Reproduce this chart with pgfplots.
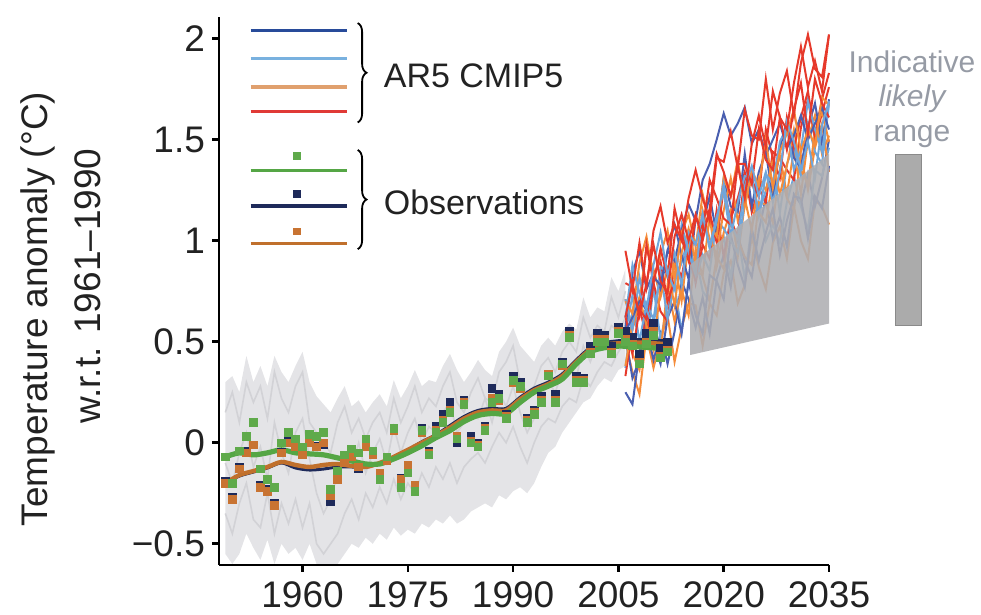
\documentclass[border=0pt]{standalone}
\usepackage{fontspec}
\setmainfont{Liberation Sans}
\usepackage{pgfplots}
\pgfplotsset{compat=1.18}
\usepackage{pgfplotstable}
\usepgfplotslibrary{fillbetween}
\usetikzlibrary{decorations.pathreplacing}

\definecolor{tickc}{HTML}{222222}
\definecolor{histgray}{HTML}{E4E4E7}
\definecolor{histline}{HTML}{D2D2D6}
\definecolor{projgray}{HTML}{AEAEB2}
\definecolor{barfill}{HTML}{ABABAB}
\definecolor{bardraw}{HTML}{8A8A8A}
\definecolor{indc}{HTML}{969BA5}
\definecolor{cred}{HTML}{E6392B}
\definecolor{corange}{HTML}{F58C3A}
\definecolor{clblue}{HTML}{6FA6DB}
\definecolor{cdblue}{HTML}{4A5FB0}
\definecolor{legdblue}{HTML}{284B9A}
\definecolor{leglblue}{HTML}{79B1DF}
\definecolor{legtan}{HTML}{E0A06E}
\definecolor{legred}{HTML}{E03A36}
\definecolor{obsg}{HTML}{5FAA4B}
\definecolor{obsn}{HTML}{1E2A5A}
\definecolor{obso}{HTML}{C87332}
\definecolor{lineg}{HTML}{55A645}
\definecolor{lineo}{HTML}{C0702C}

% CMIP5 historical envelope
\pgfplotstableread{
yr up lo
1949 0.30 -0.55
1950 0.33 -0.60
1951 0.25 -0.55
1952 0.43 -0.45
1953 0.30 -0.52
1954 0.38 -0.58
1955 0.28 -0.48
1956 0.43 -0.60
1957 0.35 -0.50
1958 0.30 -0.55
1959 0.38 -0.52
1960 0.45 -0.58
1961 0.30 -0.50
1962 0.23 -0.60
1963 0.19 -0.60
1964 0.15 -0.60
1965 0.22 -0.60
1966 0.28 -0.55
1967 0.18 -0.50
1968 0.21 -0.52
1969 0.15 -0.47
1970 0.20 -0.50
1971 0.24 -0.45
1972 0.18 -0.48
1973 0.31 -0.42
1974 0.22 -0.46
1975 0.28 -0.43
1976 0.36 -0.45
1977 0.28 -0.40
1978 0.31 -0.42
1979 0.30 -0.38
1980 0.38 -0.40
1981 0.44 -0.36
1982 0.36 -0.40
1983 0.30 -0.38
1984 0.35 -0.34
1985 0.41 -0.32
1986 0.36 -0.30
1987 0.33 -0.32
1988 0.45 -0.26
1989 0.50 -0.28
1990 0.57 -0.24
1991 0.48 -0.22
1992 0.44 -0.25
1993 0.40 -0.20
1994 0.48 -0.12
1995 0.52 -0.05
1996 0.48 -0.02
1997 0.55 0.05
1998 0.59 0.10
1999 0.56 0.15
2000 0.72 0.20
2001 0.62 0.22
2002 0.67 0.28
2003 0.65 0.32
2004 0.82 0.30
2005 0.75 0.36
2006 0.86 0.38
}\env

% a few individual historical runs
\pgfplotstableread{
yr h1 h2 h3
1949 0.15 -0.35 -0.10
1950 0.25 -0.45 -0.20
1951 0.10 -0.30 -0.05
1952 0.30 -0.20 0.05
1953 0.20 -0.38 -0.12
1954 0.28 -0.42 -0.02
1955 0.12 -0.25 -0.18
1956 0.35 -0.45 0.10
1957 0.22 -0.30 -0.05
1958 0.15 -0.40 -0.15
1959 0.28 -0.28 0.05
1960 0.35 -0.42 0.12
1961 0.10 -0.30 -0.08
1962 0.05 -0.50 -0.25
1963 0.00 -0.55 -0.35
1964 -0.05 -0.50 -0.28
1965 0.10 -0.45 -0.15
1966 0.18 -0.35 -0.05
1967 0.05 -0.28 -0.12
1968 0.12 -0.38 0.00
1969 0.02 -0.25 -0.15
1970 0.10 -0.32 -0.05
1971 0.15 -0.22 0.02
1972 0.05 -0.30 -0.10
1973 0.22 -0.18 0.08
1974 0.10 -0.28 -0.05
1975 0.18 -0.20 0.05
1976 0.28 -0.25 0.12
1977 0.15 -0.15 0.00
1978 0.22 -0.22 0.08
1979 0.18 -0.12 0.05
1980 0.28 -0.18 0.15
1981 0.35 -0.10 0.20
1982 0.20 -0.20 0.05
1983 0.15 -0.12 0.10
1984 0.25 -0.08 0.15
1985 0.32 -0.05 0.12
1986 0.22 -0.10 0.22
1987 0.20 -0.02 0.10
1988 0.35 0.05 0.25
1989 0.40 0.00 0.18
1990 0.48 0.08 0.28
1991 0.30 -0.02 0.15
1992 0.25 -0.10 0.05
1993 0.28 0.00 0.12
1994 0.38 0.08 0.22
1995 0.42 0.12 0.30
1996 0.35 0.10 0.25
1997 0.45 0.18 0.35
1998 0.50 0.22 0.38
1999 0.45 0.20 0.32
2000 0.62 0.32 0.48
2001 0.52 0.28 0.40
2002 0.58 0.35 0.50
2003 0.55 0.40 0.48
2004 0.72 0.38 0.58
2005 0.62 0.45 0.55
2006 0.75 0.50 0.62
}\hist

% CMIP5 projections (RCP runs)
\pgfplotstableread{
yr r1 r2 r3 r4 r5 o1 o2 o3 o4 o5 l1 l2 l3 l4 b1 b2 b3 b4
2006 0.62 0.63 0.79 0.33 0.95 0.38 0.71 0.55 0.70 0.50 0.71 0.37 0.62 0.54 0.55 0.53 0.57 0.25
2007 0.79 0.44 0.77 0.57 0.76 0.59 0.56 0.44 0.64 0.35 0.56 0.65 0.88 0.73 0.62 0.32 0.84 0.19
2008 0.63 0.66 0.63 0.67 0.99 0.72 0.71 0.36 0.89 0.24 0.82 0.51 0.74 0.50 0.70 0.41 0.95 0.45
2009 0.79 0.61 0.98 0.52 0.77 0.58 0.96 0.60 1.02 0.53 0.66 0.48 0.66 0.69 0.66 0.65 0.76 0.56
2010 0.98 0.83 0.79 0.79 1.05 0.46 0.86 0.57 0.81 0.37 0.57 0.77 0.88 0.61 0.82 0.50 0.84 0.41
2011 0.80 0.90 0.96 0.65 1.17 0.77 0.72 0.44 0.93 0.51 0.87 0.51 1.04 0.85 0.78 0.39 0.75 0.54
2012 0.74 0.70 0.82 0.60 0.99 0.74 0.86 0.78 1.05 0.63 0.84 0.68 0.83 0.61 0.95 0.62 0.95 0.39
2013 1.02 0.80 1.16 0.90 1.08 0.89 0.68 0.60 0.81 0.40 0.76 0.78 0.94 0.80 0.90 0.70 1.08 0.55
2014 1.13 1.05 1.01 0.82 1.00 0.70 0.94 0.76 1.04 0.57 1.08 0.55 0.78 0.89 1.05 0.54 0.93 0.80
2015 1.00 0.91 0.90 1.01 1.21 0.99 1.06 0.63 1.13 0.69 0.94 0.80 1.04 1.02 1.18 0.80 0.81 0.71
2016 1.13 0.81 1.11 0.79 1.35 0.85 0.89 0.96 0.97 0.68 0.83 0.93 0.98 0.81 1.10 0.63 1.11 0.57
2017 1.00 1.05 1.06 0.98 1.21 0.83 1.15 0.82 1.23 0.48 1.13 0.75 1.13 0.93 1.30 0.54 1.08 0.72
2018 1.16 1.14 1.30 0.91 1.10 1.12 1.01 0.70 1.08 0.69 0.97 0.70 0.96 0.85 1.38 0.83 1.22 0.54
2019 1.43 0.99 1.21 1.15 1.41 0.87 0.93 0.92 1.02 0.63 1.12 0.90 1.10 1.10 1.50 0.80 1.03 0.81
2020 1.34 1.26 1.11 0.92 1.39 1.04 1.15 0.86 1.31 0.84 1.24 1.02 1.28 1.06 1.63 0.71 1.31 0.93
2021 1.22 1.10 1.08 1.11 1.54 1.15 1.31 1.11 1.22 0.90 1.02 0.82 1.08 1.00 1.52 1.03 1.17 0.77
2022 1.37 1.02 1.38 1.21 1.36 0.92 1.10 1.01 1.40 0.69 1.19 1.04 1.01 0.94 1.58 0.88 1.14 1.03
2023 1.21 1.32 1.38 1.34 1.65 1.18 1.21 0.92 1.17 0.78 1.32 0.81 1.27 1.20 1.66 0.77 1.43 0.90
2024 1.48 1.30 1.28 1.14 1.52 1.31 1.05 0.88 1.35 1.02 1.31 1.08 1.37 1.33 1.48 1.06 1.17 0.82
2025 1.62 1.22 1.55 1.26 1.50 1.14 1.31 1.19 1.27 0.87 1.12 1.19 1.22 1.13 1.55 0.90 1.34 1.05
2026 1.46 1.55 1.40 1.19 1.80 1.09 1.25 1.18 1.50 0.76 1.33 1.00 1.34 1.25 1.42 1.04 1.44 1.21
2027 1.74 1.41 1.35 1.44 1.55 1.30 1.40 1.09 1.26 0.99 1.28 1.08 1.19 1.38 1.50 1.16 1.21 1.01
2028 1.61 1.31 1.61 1.41 1.73 1.42 1.23 1.35 1.44 1.07 1.49 0.99 1.34 1.14 1.58 0.93 1.46 1.12
2029 1.55 1.61 1.45 1.35 1.84 1.23 1.37 1.21 1.53 0.91 1.56 1.19 1.59 1.38 1.46 1.10 1.59 0.97
2030 1.78 1.46 1.65 1.30 1.62 1.45 1.55 1.15 1.65 1.17 1.35 1.32 1.49 1.47 1.52 1.22 1.41 1.23
2031 1.96 1.61 1.78 1.56 1.88 1.23 1.35 1.42 1.44 1.00 1.45 1.17 1.35 1.32 1.62 1.21 1.36 1.18
2032 1.76 1.74 1.53 1.70 2.02 1.50 1.28 1.25 1.55 0.91 1.69 1.05 1.49 1.58 1.50 1.01 1.56 1.33
2033 1.89 1.52 1.80 1.50 1.85 1.62 1.54 1.46 1.47 1.20 1.55 1.35 1.31 1.44 1.58 1.22 1.68 1.17
2034 1.74 1.70 1.68 1.63 1.81 1.43 1.64 1.58 1.71 1.17 1.44 1.32 1.57 1.38 1.66 1.16 1.48 1.31
2035 2.02 1.83 1.61 1.76 2.02 1.52 1.49 1.34 1.67 1.08 1.68 1.46 1.69 1.68 1.55 1.37 1.70 1.50
}\proj

% Observations: annual values (green, navy, orange datasets)
\pgfplotstableread{
yr g n o
1949 -0.07 -0.19 -0.20
1950 -0.20 -0.27 -0.28
1951 -0.04 -0.12 -0.13
1952 0.03 -0.04 -0.05
1953 0.10 -0.01 -0.01
1954 -0.13 -0.21 -0.22
1955 -0.18 -0.23 -0.24
1956 -0.22 -0.30 -0.31
1957 0.00 -0.045 -0.05
1958 0.05 0.01 0.00
1959 0.02 -0.015 -0.02
1960 -0.02 -0.055 -0.06
1961 0.04 0.005 0.00
1962 0.03 -0.015 -0.02
1963 0.05 -0.01 0.00
1964 -0.23 -0.29 -0.26
1965 -0.14 -0.175 -0.18
1966 -0.06 -0.095 -0.10
1967 -0.03 -0.065 -0.07
1968 -0.05 -0.13 -0.12
1969 0.02 -0.015 -0.02
1970 -0.04 -0.055 -0.06
1971 -0.18 -0.155 -0.15
1972 -0.07 -0.085 -0.09
1973 0.07 0.07 0.06
1974 -0.22 -0.175 -0.18
1975 -0.15 -0.115 -0.11
1976 -0.24 -0.22 -0.21
1977 0.06 0.07 0.05
1978 -0.06 -0.04 -0.05
1979 0.05 0.08 0.06
1980 0.10 0.14 0.11
1981 0.15 0.20 0.16
1982 0.02 0.00 0.03
1983 0.19 0.21 0.20
1984 0.00 0.03 0.01
1985 -0.02 0.00 -0.01
1986 0.06 0.08 0.07
1987 0.20 0.27 0.22
1988 0.22 0.24 0.21
1989 0.12 0.14 0.13
1990 0.31 0.33 0.30
1991 0.28 0.30 0.27
1992 0.10 0.12 0.11
1993 0.14 0.16 0.15
1994 0.20 0.23 0.21
1995 0.33 0.34 0.34
1996 0.20 0.24 0.21
1997 0.39 0.40 0.38
1998 0.52 0.55 0.53
1999 0.30 0.33 0.31
2000 0.30 0.32 0.31
2001 0.44 0.48 0.45
2002 0.50 0.54 0.51
2003 0.50 0.53 0.51
2004 0.44 0.48 0.45
2005 0.54 0.57 0.55
2006 0.50 0.55 0.51
2007 0.48 0.52 0.49
2008 0.39 0.44 0.40
2009 0.49 0.54 0.50
2010 0.53 0.59 0.55
2011 0.42 0.47 0.43
2012 0.45 0.50 0.46
}\obs

% Observations: smoothed
\pgfplotstableread{
yr g o n
1949 -0.07 -0.20 -0.20
1951 -0.05 -0.16 -0.165
1953 -0.06 -0.14 -0.145
1955 -0.05 -0.12 -0.125
1957 -0.035 -0.095 -0.10
1959 -0.05 -0.11 -0.125
1961 -0.055 -0.12 -0.135
1963 -0.06 -0.11 -0.13
1965 -0.075 -0.105 -0.12
1967 -0.09 -0.115 -0.12
1969 -0.105 -0.12 -0.12
1971 -0.105 -0.10 -0.10
1973 -0.08 -0.07 -0.07
1975 -0.05 -0.035 -0.035
1977 -0.015 0.00 0.005
1979 0.025 0.035 0.04
1981 0.06 0.075 0.085
1983 0.105 0.12 0.13
1985 0.135 0.15 0.16
1987 0.145 0.16 0.17
1989 0.145 0.16 0.17
1991 0.20 0.215 0.225
1993 0.25 0.26 0.27
1995 0.28 0.29 0.30
1997 0.315 0.33 0.34
1999 0.39 0.40 0.41
2001 0.45 0.46 0.47
2003 0.47 0.485 0.495
2005 0.478 0.492 0.505
2007 0.476 0.495 0.51
2009 0.472 0.495 0.51
2011 0.467 0.49 0.505
2012 0.465 0.49 0.505
}\obssm

\begin{document}
\begin{tikzpicture}
\begin{axis}[
  at={(109.5pt,25pt)}, anchor=south west,
  width=305pt, height=274pt, scale only axis,
  xmin=1948.1, xmax=2035, ymin=-0.605, ymax=2.107,
  axis lines=left,
  axis line style={-, line width=1.3pt, black},
  clip=false,
  xtick={1960,1975,1990,2005,2020,2035},
  xticklabels={1960,1975,1990,2005,2020,2035},
  ytick={-0.5,0,0.5,1,1.5,2},
  yticklabels={−0.5,0,0.5,1,1.5,2},
  tick align=outside,
  major tick length=3.5pt,
  tick style={line width=1.3pt, black},
  ticklabel style={font=\fontsize{18.5}{20}\selectfont, text=tickc},
  xticklabel style={yshift=-1.5pt},
]
% historical CMIP5 envelope
\addplot[name path=envup, draw=none, forget plot] table[x=yr, y=up] {\env};
\addplot[name path=envlo, draw=none, forget plot] table[x=yr, y=lo] {\env};
\addplot[fill=histgray, draw=none, forget plot] fill between[of=envup and envlo];
\addplot[histline, line width=0.8pt, forget plot] table[x=yr, y=h1] {\hist};
\addplot[histline, line width=0.8pt, forget plot] table[x=yr, y=h2] {\hist};
\addplot[histline, line width=0.8pt, forget plot] table[x=yr, y=h3] {\hist};

% projections
\pgfplotsset{proj/.style={line width=1pt, forget plot}}
\addplot[proj, corange] table[x=yr, y=o5] {\proj};
\addplot[proj, cdblue]  table[x=yr, y=b4] {\proj};
\addplot[proj, clblue]  table[x=yr, y=l2] {\proj};
\addplot[proj, corange] table[x=yr, y=o3] {\proj};
\addplot[proj, cdblue]  table[x=yr, y=b2] {\proj};
\addplot[proj, cred]    table[x=yr, y=r4] {\proj};
\addplot[proj, corange] table[x=yr, y=o1] {\proj};
\addplot[proj, clblue]  table[x=yr, y=l4] {\proj};
\addplot[proj, cdblue]  table[x=yr, y=b3] {\proj};
\addplot[proj, corange] table[x=yr, y=o2] {\proj};
\addplot[proj, cred]    table[x=yr, y=r2] {\proj};
\addplot[proj, clblue]  table[x=yr, y=l1] {\proj};
\addplot[proj, cdblue]  table[x=yr, y=b1] {\proj};
\addplot[proj, corange] table[x=yr, y=o4] {\proj};
\addplot[proj, cred]    table[x=yr, y=r3] {\proj};
\addplot[proj, clblue]  table[x=yr, y=l3] {\proj};
\addplot[proj, cred]    table[x=yr, y=r5] {\proj};
\addplot[proj, cred]    table[x=yr, y=r1] {\proj};

% indicative likely range (trapezoid)
\addplot[fill=projgray, draw=none, fill opacity=0.88, forget plot]
  coordinates {(2015.2,0.434) (2015.2,0.88) (2035,1.43) (2035,0.59)} -- cycle;

% observations
\pgfplotsset{obsmk/.style={only marks, mark=square*, mark size=1.9pt, forget plot}}
\addplot[obsmk, obsn] table[x=yr, y=n] {\obs};
\addplot[obsmk, obso] table[x=yr, y=o] {\obs};
\addplot[obsmk, obsg] table[x=yr, y=g] {\obs};
\addplot[obsn, line width=1.5pt, smooth, forget plot] table[x=yr, y=n] {\obssm};
\addplot[lineo, line width=2.2pt, smooth, forget plot] table[x=yr, y=o] {\obssm};
\addplot[lineg, line width=2.6pt, smooth, forget plot] table[x=yr, y=g] {\obssm};

% right-hand bar
\addplot[fill=barfill, draw=bardraw, line width=0.5pt, forget plot]
  coordinates {(2044.54,0.581) (2048.24,0.581) (2048.24,1.426) (2044.54,1.426)} -- cycle;

% legend samples
\addplot[legdblue, line width=1.6pt, forget plot] coordinates {(1952.59,2.041) (1966.39,2.041)};
\addplot[leglblue, line width=1.6pt, forget plot] coordinates {(1952.59,1.903) (1966.39,1.903)};
\addplot[legtan,   line width=1.6pt, forget plot] coordinates {(1952.59,1.761) (1966.39,1.761)};
\addplot[legred,   line width=1.6pt, forget plot] coordinates {(1952.59,1.639) (1966.39,1.639)};
\addplot[lineg, line width=1.6pt, forget plot] coordinates {(1952.59,1.349) (1966.39,1.349)};
\addplot[obsn,  line width=1.6pt, forget plot] coordinates {(1952.59,1.172) (1966.39,1.172)};
\addplot[lineo, line width=1.6pt, forget plot] coordinates {(1952.59,0.985) (1966.39,0.985)};
\addplot[obsmk, obsg, mark size=1.6pt] coordinates {(1959.18,1.42)};
\addplot[obsmk, obsn, mark size=1.6pt] coordinates {(1959.18,1.232)};
\addplot[obsmk, obso, mark size=1.6pt] coordinates {(1959.18,1.046)};

\draw[decorate, decoration={brace, amplitude=4.4pt}, line width=0.9pt]
  (axis cs:1967.86,2.077) -- (axis cs:1967.86,1.585);
\draw[decorate, decoration={brace, amplitude=4.4pt}, line width=0.9pt]
  (axis cs:1967.86,1.449) -- (axis cs:1967.86,0.958);
\node[anchor=west, font=\fontsize{17}{20}\selectfont, text=tickc] at (axis cs:1970.58,1.816) {AR5 CMIP5};
\node[anchor=west, font=\fontsize{17}{20}\selectfont, text=tickc] at (axis cs:1970.58,1.191) {Observations};

\node[anchor=base, font=\fontsize{15}{18}\selectfont, text=indc] at (axis cs:2046.82,1.8315) {Indicative};
\node[anchor=base, font=\fontsize{15}{18}\selectfont\itshape, text=indc] at (axis cs:2046.82,1.664) {likely};
\node[anchor=base, font=\fontsize{15}{18}\selectfont, text=indc] at (axis cs:2046.82,1.491) {range};
\end{axis}
\node[rotate=90, anchor=base, font=\fontsize{18.5}{20}\selectfont, text=tickc] at (24pt,153pt) {Temperature anomaly (°C)};
\node[rotate=90, anchor=base, font=\fontsize{18.5}{20}\selectfont, text=tickc] at (50pt,164.5pt) {w.r.t. 1961–1990};
\pgfresetboundingbox
\path[use as bounding box] (0,0) rectangle (490.5pt,307.5pt);
\end{tikzpicture}
\end{document}
